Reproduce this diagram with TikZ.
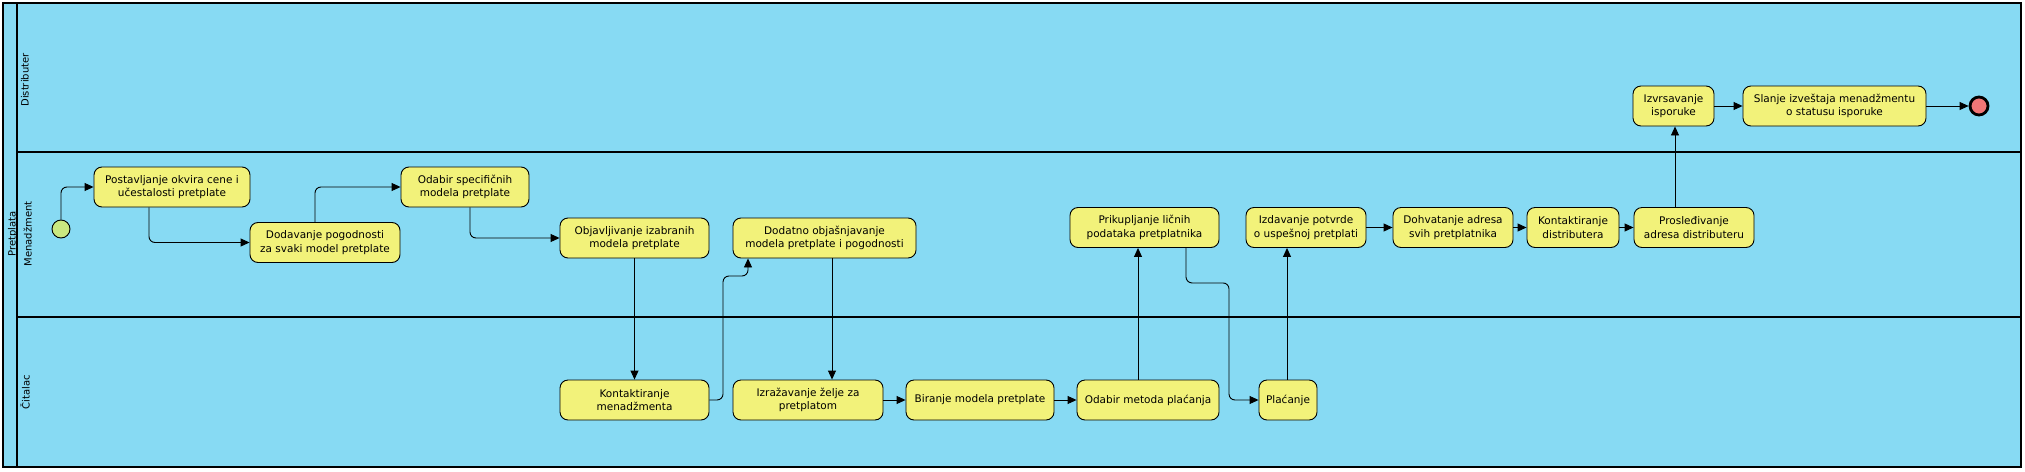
\documentclass[tikz,border=0pt]{standalone}
\usepackage{fontspec}
\setmainfont{DejaVu Sans}
\usetikzlibrary{arrows.meta}
\definecolor{laneblue}{RGB}{135,218,243}
\definecolor{taskyellow}{RGB}{242,242,122}
\definecolor{startgreen}{RGB}{202,232,128}
\definecolor{endred}{RGB}{240,118,118}
\newcommand{\taskfont}{\fontsize{10.5}{13.3}\selectfont}
\newcommand{\lanefont}{\fontsize{10}{16}\selectfont}
\tikzset{
	task/.style={draw, line width=0.9pt, rounded corners=8pt, fill=taskyellow, align=center, inner sep=1pt, minimum height=40pt, font=\taskfont},
	flow/.style={line width=0.9pt, rounded corners=6pt, -{Triangle[length=9pt,width=8pt]}},
	lanelabel/.style={rotate=90, align=center, font=\lanefont}
}
\begin{document}
\begin{tikzpicture}[x=1pt, y=-1pt]
	\useasboundingbox (0,0) rectangle (2025,471);
	% pool and lanes
	\fill[laneblue] (3,3) rectangle (2021,467);
	\draw[line width=1.2pt] (3,3) rectangle (2021,467);
	\draw[line width=2pt] (17,3) -- (17,467);
	\draw[line width=1.2pt] (17,152) -- (2021,152);
	\draw[line width=1.2pt] (17,317) -- (2021,317);
	\node[lanelabel] (lDistributer) at (25,80) {Distributer};
	\node[lanelabel] (lMenadzment) at (20,234) {Pretplata\\Menadžment};
	\node[lanelabel] (lCitalac) at (25,392) {Čitalac};
	% Pretplata Menadzment
	\node[draw, line width=0.9pt, circle, fill=startgreen, minimum size=18pt, inner sep=0pt] (start) at (61,229) {};
	\node[task, minimum width=156pt] (post) at (172,187) {Postavljanje okvira cene i\\učestalosti pretplate};
	\node[task, minimum width=150pt] (dod) at (325,242.5) {Dodavanje pogodnosti\\za svaki model pretplate};
	\node[task, minimum width=128pt] (osp) at (465,187) {Odabir specifičnih\\modela pretplate};
	\node[task, minimum width=149pt] (obj) at (634.5,238) {Objavljivanje izabranih\\modela pretplate};
	\node[task, minimum width=183pt] (dot) at (824.5,238) {Dodatno objašnjavanje\\modela pretplate i pogodnosti};
	\node[task, minimum width=149pt] (pri) at (1144.5,227.5) {Prikupljanje ličnih\\podataka pretplatnika};
	\node[task, minimum width=120pt] (izd) at (1306,227.5) {Izdavanje potvrde\\o uspešnoj pretplati};
	\node[task, minimum width=120pt] (dohv) at (1453,227.5) {Dohvatanje adresa\\svih pretplatnika};
	\node[task, minimum width=92pt] (kdis) at (1573,227.5) {Kontaktiranje\\distributera};
	\node[task, minimum width=120pt] (pros) at (1694,227.5) {Prosleđivanje\\adresa distributeru};
	% Distributer
	\node[task, minimum width=81pt] (izv) at (1673.5,106) {Izvrsavanje\\isporuke};
	\node[task, minimum width=183pt] (sla) at (1834.5,106) {Slanje izveštaja menadžmentu\\o statusu isporuke};
	\node[draw, line width=2.8pt, circle, fill=endred, minimum size=18pt, inner sep=0pt] (end) at (1979,106) {};
	% Citalac
	\node[task, minimum width=149pt] (kmen) at (634.5,400) {Kontaktiranje\\menadžmenta};
	\node[task, minimum width=150pt] (izr) at (808,400) {Izražavanje želje za\\pretplatom};
	\node[task, minimum width=148pt] (bir) at (980,400) {Biranje modela pretplate};
	\node[task, minimum width=142pt] (ome) at (1148,400) {Odabir metoda plaćanja};
	\node[task, minimum width=58pt] (pla) at (1288,400) {Plaćanje};
	\coordinate (bendA) at (723,276);
	\coordinate (bendB) at (1229,400);
	% flows
	\draw[flow] (start.north) |- (post.west);
	\draw[flow] ([xshift=-23pt]post.south) |- (dod.west);
	\draw[flow] ([xshift=-10pt]dod.north) |- (osp.west);
	\draw[flow] ([xshift=5pt]osp.south) |- (obj.west);
	\draw[flow] (obj.south) -- (kmen.north);
	\draw[flow] (kmen.east) -| (bendA) -| ([xshift=-76.5pt]dot.south);
	\draw[flow] ([xshift=7.5pt]dot.south) -- ([xshift=24pt]izr.north);
	\draw[flow] (izr) -- (bir);
	\draw[flow] (bir) -- (ome);
	\draw[flow] ([xshift=-10pt]ome.north) -- ([xshift=-6.5pt]pri.south);
	\draw[flow] ([xshift=41.5pt]pri.south) -- ++(0,35) -| (bendB) -- (pla.west);
	\draw[flow] ([xshift=-1pt]pla.north) -- ([xshift=-19pt]izd.south);
	\draw[flow] (izd) -- (dohv);
	\draw[flow] (dohv) -- (kdis);
	\draw[flow] (kdis) -- (pros);
	\draw[flow] ([xshift=-19pt]pros.north) -- ([xshift=1.5pt]izv.south);
	\draw[flow] (izv) -- (sla);
	\draw[flow] (sla) -- (end);
\end{tikzpicture}
\end{document}
